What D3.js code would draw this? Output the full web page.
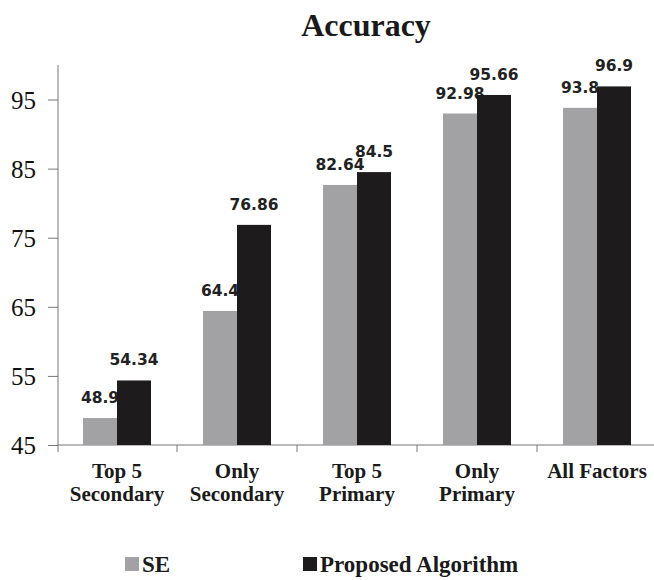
<!DOCTYPE html>
<html>
<head>
<meta charset="utf-8">
<script src="https://cdn.jsdelivr.net/npm/d3@7"></script>
<style>
  html, body { margin: 0; padding: 0; background: #fff; }
  svg { display: block; }
</style>
</head>
<body>
<svg id="chart" width="654" height="580"></svg>
<script>
const categories = [["Top 5", "Secondary"], ["Only", "Secondary"], ["Top 5", "Primary"], ["Only", "Primary"], ["All Factors"]];
const seriesNames = ["SE", "Proposed Algorithm"];
const seValues = [48.9, 64.4, 82.64, 92.98, 93.8];
const proposedValues = [54.34, 76.86, 84.5, 95.66, 96.9];
const yTicks = [45, 55, 65, 75, 85, 95];
const colors = ["#a2a2a4", "#1d1b1c"];

const svg = d3.select("#chart");
const serif = "'Liberation Serif', 'Times New Roman', serif";
const sans = "'DejaVu Sans', Verdana, sans-serif";

const catKeys = categories.map((c, i) => i);
const x0 = d3.scaleBand().domain(catKeys).range([57, 657]).padding(0);
const x1 = d3.scaleBand().domain(seriesNames).range([26, 94]).padding(0);
const y = d3.scaleLinear().domain([45, 100]).range([445, 65]);

// Title
svg.append("text").attr("x", 366).attr("y", 36).attr("text-anchor", "middle")
  .attr("font-family", serif).attr("font-weight", "bold").attr("font-size", 32)
  .attr("fill", "#1a1a1a").text("Accuracy");

// Y axis
const yAxis = d3.axisLeft(y).tickValues(yTicks).tickSize(10).tickPadding(12).tickSizeOuter(0);
const gy = svg.append("g").attr("transform", "translate(58,0)").call(yAxis);
gy.select(".domain").remove();
gy.selectAll(".tick line").attr("stroke", "#777");
gy.selectAll(".tick text").attr("font-family", serif).attr("font-size", 25).attr("fill", "#111").attr("dy", "0.35em");
svg.append("line").attr("x1", 58).attr("x2", 58).attr("y1", y(100)).attr("y2", 452).attr("stroke", "#777");

// X axis
svg.append("line").attr("x1", 58).attr("x2", 654).attr("y1", 445).attr("y2", 445).attr("stroke", "#777");
catKeys.slice(1).forEach(k => {
  svg.append("line").attr("x1", x0(k)).attr("x2", x0(k)).attr("y1", 445).attr("y2", 452).attr("stroke", "#777");
});

const data = seriesNames.map((s, si) => ({ name: s, values: si === 0 ? seValues : proposedValues, color: colors[si] }));

data.forEach(series => {
  const g = svg.append("g");
  g.selectAll("rect").data(series.values).join("rect")
    .attr("x", (d, i) => x0(i) + x1(series.name))
    .attr("y", d => y(d))
    .attr("width", x1.bandwidth())
    .attr("height", d => y(45) - y(d))
    .attr("fill", series.color);
  g.selectAll("text").data(series.values).join("text")
    .attr("x", (d, i) => x0(i) + x1(series.name) + x1.bandwidth() / 2)
    .attr("y", d => y(d) - 15)
    .attr("text-anchor", "middle")
    .attr("font-family", sans).attr("font-weight", "bold").attr("font-size", 15.5)
    .attr("fill", "#222")
    .text(d => String(d));
});

// Category labels
categories.forEach((lines, i) => {
  const t = svg.append("text").attr("text-anchor", "middle")
    .attr("font-family", serif).attr("font-weight", "bold").attr("font-size", 21).attr("fill", "#1a1a1a");
  lines.forEach((ln, j) => {
    t.append("tspan").attr("x", x0(i) + x0.bandwidth() / 2).attr("y", 478 + j * 23).text(ln);
  });
});

// Legend
const legendX = [125, 303];
data.forEach((series, i) => {
  svg.append("rect").attr("x", legendX[i]).attr("y", 557).attr("width", 14).attr("height", 14).attr("fill", series.color);
  svg.append("text").attr("x", legendX[i] + 17).attr("y", 572)
    .attr("font-family", serif).attr("font-weight", "bold").attr("font-size", 23).attr("fill", "#1a1a1a")
    .text(series.name);
});
</script>
</body>
</html>
